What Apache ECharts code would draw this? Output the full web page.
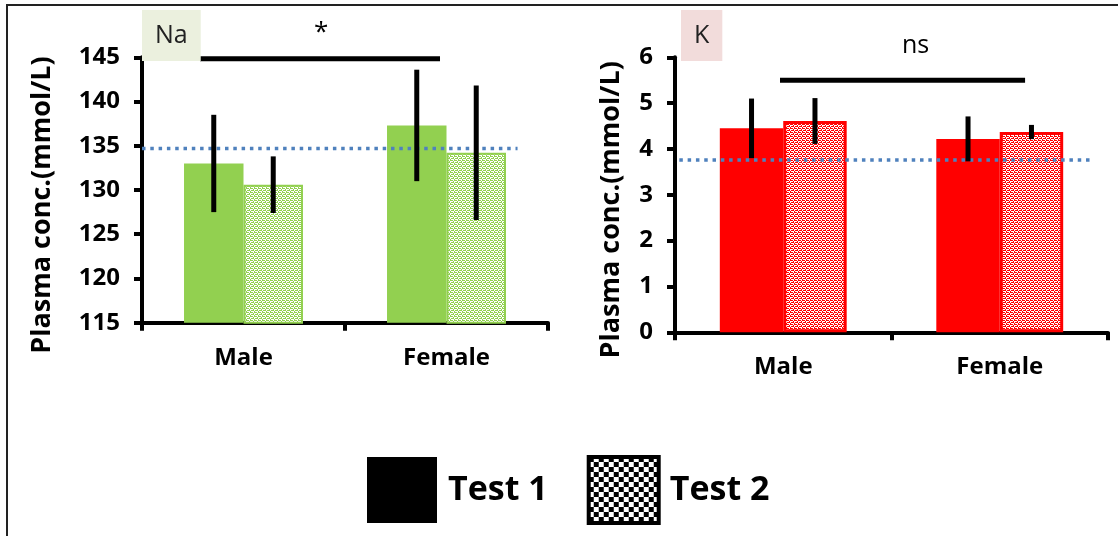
<!DOCTYPE html>
<html>
<head>
<meta charset="utf-8">
<script src="https://cdn.jsdelivr.net/npm/echarts@6/dist/echarts.min.js"></script>
<style>
html,body{margin:0;padding:0;background:#fff;}
#chart{width:1118px;height:536px;}
</style>
</head>
<body>
<div id="chart"></div>
<script>
// ---- data ----
const categories = ['Male', 'Female'];
const seriesNames = ['Test 1', 'Test 2'];
// Na panel (mmol/L)
const naTest1 = [133.0, 137.3];
const naTest2 = [130.6, 134.2];
const naErr1 = [5.5, 6.3];
const naErr2 = [3.2, 7.6];
const naRef = 134.7;
const naSigLevel = 144.85;
const naSigText = '*';
// K panel (mmol/L)
const kTest1 = [4.45, 4.22];
const kTest2 = [4.61, 4.37];
const kErr1 = [0.65, 0.49];
const kErr2 = [0.5, 0.155];
const kRef = 3.76;
const kSigLevel = 5.5;
const kSigText = 'ns';
const panelLabels = ['Na', 'K'];
const yAxisTitle = 'Plasma conc.(mmol/L)';

// ---- styles ----
const GREEN = '#92d050', RED = '#ff0000', REFBLUE = '#4f81bd';
const FONT = '"Open Sans", "Liberation Sans", sans-serif';
const BAR_FRAC = 0.293;

function speckle(color) {
  const c = document.createElement('canvas');
  c.width = 4; c.height = 4;
  const g = c.getContext('2d');
  g.fillStyle = '#fff'; g.fillRect(0, 0, 4, 4);
  g.fillStyle = color;
  [[0,0],[2,0],[3,0],[1,1],[0,2],[1,2],[3,2],[2,3]].forEach(p => g.fillRect(p[0], p[1], 1, 1));
  return { image: c, repeat: 'repeat' };
}
function checker() {
  const c = document.createElement('canvas');
  c.width = 10; c.height = 10;
  const g = c.getContext('2d');
  g.fillStyle = '#fff'; g.fillRect(0, 0, 10, 10);
  g.fillStyle = '#000'; g.fillRect(0, 0, 5, 5); g.fillRect(5, 5, 5, 5);
  return { image: c, repeat: 'repeat' };
}

const chart = echarts.init(document.getElementById('chart'), null, { renderer: 'canvas' });

function catAxis(gridIndex) {
  return {
    type: 'category', gridIndex, data: categories,
    axisLine: { lineStyle: { color: '#000', width: 4 } },
    axisTick: { show: true, length: 8, lineStyle: { color: '#000', width: 4 } },
    axisLabel: { color: '#000', fontFamily: FONT, fontWeight: 'bold', fontSize: 24, margin: 23 },
    splitLine: { show: false }
  };
}
function valAxis(gridIndex, min, max, interval, nameGap) {
  return {
    type: 'value', gridIndex, min, max, interval,
    name: yAxisTitle, nameLocation: 'middle', nameGap,
    nameTextStyle: { color: '#000', fontFamily: FONT, fontWeight: 'bold', fontSize: 27, padding: [0, 30, 0, 0] },
    axisLine: { show: true, lineStyle: { color: '#000', width: 4 } },
    axisTick: { show: true, length: 8, lineStyle: { color: '#000', width: 4 } },
    axisLabel: { color: '#000', fontFamily: FONT, fontWeight: 'bold', fontSize: 24, margin: 22 },
    splitLine: { show: false }
  };
}
function hiddenX(gridIndex) {
  return { type: 'value', gridIndex, min: 0, max: 2, show: false };
}

function barSeries(name, xi, yi, data, color, patterned, bw) {
  return {
    type: 'bar', name, xAxisIndex: xi, yAxisIndex: yi, data,
    barWidth: (BAR_FRAC * 100) + '%', barGap: '0%',
    itemStyle: patterned
      ? { color: speckle(color), borderColor: color, borderWidth: bw }
      : { color },
    emphasis: { disabled: true }
  };
}
function errSeries(xi, yi, means, errs, side) {
  return {
    type: 'custom', name: 'err', xAxisIndex: xi, yAxisIndex: yi, z: 5,
    data: means.map((m, i) => [i, m, errs[i]]),
    renderItem: function (params, api) {
      const i = api.value(0), m = api.value(1), e = api.value(2);
      const w = api.size([1, 0])[0] * BAR_FRAC;
      const top = api.coord([i, m + e]);
      const bot = api.coord([i, m - e]);
      const x = top[0] + side * w / 2;
      return { type: 'line', shape: { x1: x, y1: top[1], x2: x, y2: bot[1] },
               style: { stroke: '#000', lineWidth: 5 } };
    }
  };
}
function refLine(xi, yi, v, x0, x1) {
  return {
    type: 'line', name: 'ref', xAxisIndex: xi, yAxisIndex: yi, z: 4,
    data: [[x0, v], [x1, v]], symbol: 'none', silent: true,
    lineStyle: { color: REFBLUE, width: 3.5, type: [3.5, 4.8] }
  };
}
function sigLine(xi, yi, v, x0, x1) {
  return {
    type: 'line', name: 'sig', xAxisIndex: xi, yAxisIndex: yi, z: 4, clip: false,
    data: [[x0, v], [x1, v]], symbol: 'none', silent: true,
    lineStyle: { color: '#000', width: 5 }
  };
}

const option = {
  backgroundColor: '#fff',
  animation: false,
  title: [
    { text: panelLabels[0], left: 142, top: 10, backgroundColor: '#ebf0de',
      padding: [12, 13, 12, 13], textStyle: { fontFamily: FONT, fontWeight: 'normal', fontSize: 25, color: '#222', lineHeight: 27 } },
    { text: panelLabels[1], left: 681, top: 10, backgroundColor: '#f2dcdb',
      padding: [12, 13, 12, 13], textStyle: { fontFamily: FONT, fontWeight: 'normal', fontSize: 25, color: '#222', lineHeight: 27 } }
  ],
  legend: {
    left: 367, top: 455, padding: 0,
    itemWidth: 70, itemHeight: 66, itemGap: 39,
    icon: 'rect',
    textStyle: { fontFamily: FONT, fontWeight: 'bold', fontSize: 34, color: '#000', padding: [0, 0, 0, 6] },
    data: [
      { name: seriesNames[0], itemStyle: { color: '#000', borderWidth: 0 } },
      { name: seriesNames[1], itemStyle: { color: checker(), borderColor: '#000', borderWidth: 4 } }
    ],
    selectedMode: false
  },
  grid: [
    { left: 142, right: 570, top: 57.3, bottom: 213.3, containLabel: false },
    { left: 675, right: 10, top: 57.3, bottom: 203.7, containLabel: false }
  ],
  xAxis: [catAxis(0), catAxis(1), hiddenX(0), hiddenX(1)],
  yAxis: [valAxis(0, 115, 145, 5, 86), valAxis(1, 0, 6, 1, 50)],
  graphic: [
    { type: 'line', shape: { x1: 6, y1: 5, x2: 1118, y2: 5 }, style: { stroke: '#222', lineWidth: 2 } },
    { type: 'line', shape: { x1: 7, y1: 5, x2: 7, y2: 536 }, style: { stroke: '#222', lineWidth: 2 } },
    { type: 'text', left: 314, top: 20, style: { text: naSigText, fontFamily: FONT, fontSize: 26, fontWeight: 'normal', fill: '#000' } },
    { type: 'text', left: 902, top: 33, style: { text: kSigText, fontFamily: FONT, fontSize: 25, fontWeight: 'normal', fill: '#000' } }
  ],
  series: [
    barSeries(seriesNames[0], 0, 0, naTest1, GREEN, false, 0),
    barSeries(seriesNames[1], 0, 0, naTest2, GREEN, true, 2),
    barSeries(seriesNames[0], 1, 1, kTest1, RED, false, 0),
    barSeries(seriesNames[1], 1, 1, kTest2, RED, true, 3),
    errSeries(0, 0, naTest1, naErr1, -1),
    errSeries(0, 0, naTest2, naErr2, 1),
    errSeries(1, 1, kTest1, kErr1, -1),
    errSeries(1, 1, kTest2, kErr2, 1),
    refLine(2, 0, naRef, 0, 1.85),
    refLine(3, 1, kRef, 0.02, 1.92),
    sigLine(2, 0, naSigLevel, 0.286, 1.468),
    sigLine(3, 1, kSigLevel, 0.485, 1.617)
  ]
};
chart.setOption(option);
</script>
</body>
</html>
